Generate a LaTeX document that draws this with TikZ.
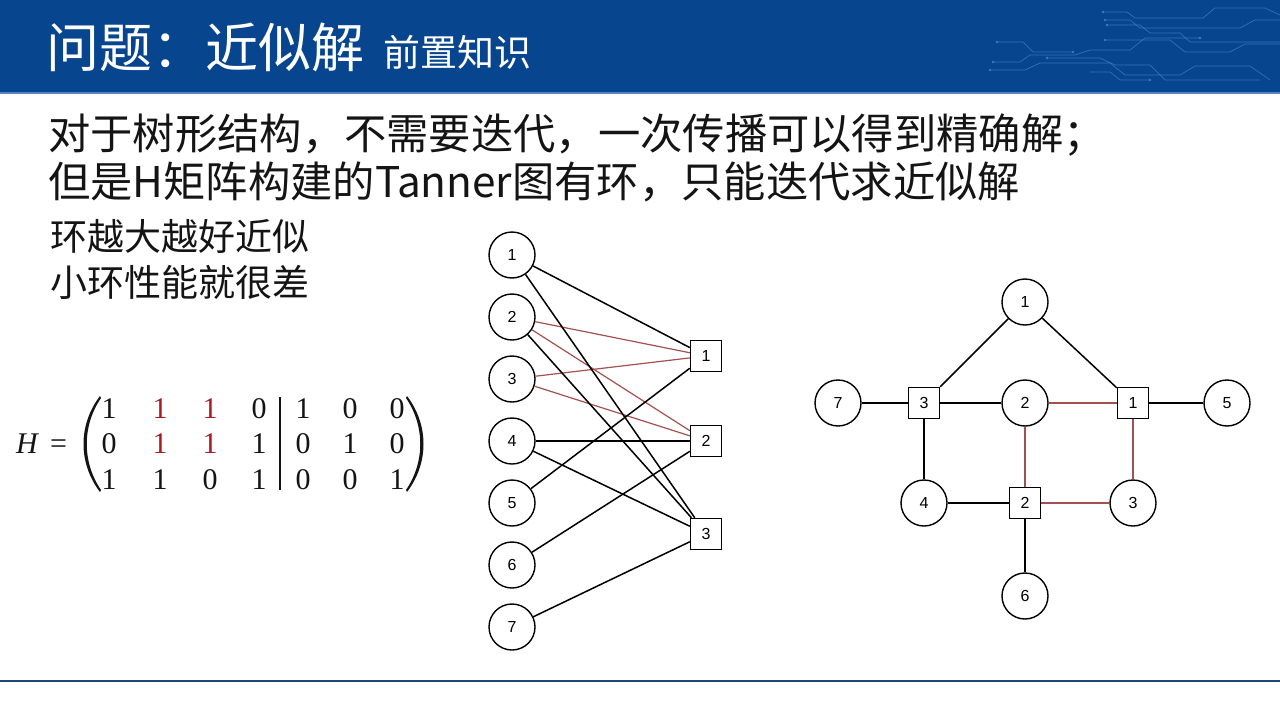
\documentclass[tikz,border=0pt]{standalone}
\usepackage{fontspec}
\newfontfamily\cjk{Noto Sans CJK SC}
\newfontfamily\arialf{Liberation Sans}
\newfontfamily\serif{Liberation Serif}
\definecolor{hdrblue}{RGB}{8,69,143}
\definecolor{hdrline}{RGB}{90,130,190}
\definecolor{circ}{RGB}{80,140,215}
\definecolor{mred}{RGB}{170,25,35}
\definecolor{ered}{RGB}{165,80,80}
\definecolor{lineblue}{RGB}{30,70,120}
\definecolor{txt}{RGB}{20,20,20}
\begin{document}
\begin{tikzpicture}[x=1pt,y=-1pt,
  vnode/.style={circle,draw,line width=1.4pt,minimum size=46pt,inner sep=0pt,fill=white,font=\arialf\fontsize{16}{16}\selectfont},
  cnode/.style={rectangle,draw,line width=1.4pt,minimum size=31pt,inner sep=0pt,fill=white,font=\arialf\fontsize{16}{16}\selectfont},
  blk/.style={line width=1.5pt,black},
  redge/.style={line width=1.2pt,ered},
  trace/.style={circ,line width=0.7pt,opacity=0.6},
  ttl/.style={anchor=base west,inner sep=0pt,text=white},
  body/.style={anchor=base west,inner sep=0pt,text=txt},
  ent/.style={anchor=base,inner sep=0pt,text=txt,font=\serif\fontsize{30}{30}\selectfont},
  rent/.style={ent,text=mred}]
\useasboundingbox (0,0) rectangle (1280,720);
\fill[white] (0,0) rectangle (1280,720);
% header
\fill[hdrblue] (0,0) rectangle (1280,92);
\draw[hdrline,line width=1.5pt] (0,93) -- (1280,93);
% circuit decoration
\draw[trace] (1103,12) -- (1127,12) -- (1135,18) -- (1203,18) -- (1215,8) -- (1265,8) -- (1280,15);
\draw[trace] (1105,20) -- (1130,20) -- (1140,28) -- (1240,28) -- (1255,20) -- (1280,20);
\draw[trace] (1107,25) -- (1140,25) -- (1150,33) -- (1180,33) -- (1190,42) -- (1280,42);
\draw[trace] (997,42) -- (1023,42) -- (1033,52) -- (1073,52);
\draw[trace] (993,62) -- (1020,62) -- (1030,55) -- (1075,55) -- (1090,50) -- (1130,50) -- (1145,38) -- (1200,38);
\draw[trace] (990,70) -- (1025,70) -- (1040,63) -- (1110,63) -- (1125,75) -- (1180,75) -- (1195,66) -- (1250,66) -- (1270,80);
\draw[trace] (1047,58) -- (1100,58) -- (1115,65) -- (1150,65) -- (1165,80) -- (1260,80);
\draw[trace] (1105,40) -- (1170,40) -- (1185,52) -- (1230,52) -- (1245,44) -- (1280,44);
\draw[trace] (1090,72) -- (1110,72) -- (1120,80) -- (1150,80);
\foreach \p in {(997,42),(1073,52),(993,62),(990,70),(1047,58),(1103,12),(1105,20),(1107,25),(1105,40),(1200,38),(1150,80)}
  \fill[circ,opacity=0.7] \p circle (1.3pt);
% title
\node[ttl,font=\cjk\fontsize{53}{53}\selectfont] (title) at (46,67) {问题：近似解};
\node[ttl,font=\cjk\fontsize{37}{37}\selectfont] (subtitle) at (383,66) {前置知识};
% body text
\node[body,font=\cjk\fontsize{42.3}{42.3}\selectfont] (l1) at (48,149) {对于树形结构，不需要迭代，一次传播可以得到精确解；};
\node[body,font=\cjk\fontsize{42.3}{42.3}\selectfont] (l2) at (48,197) {但是H矩阵构建的Tanner图有环，只能迭代求近似解};
\node[body,font=\cjk\fontsize{37}{37}\selectfont] (l3) at (50,250) {环越大越好近似};
\node[body,font=\cjk\fontsize{37}{37}\selectfont] (l4) at (50,296) {小环性能就很差};
% matrix H
\node[ent,anchor=base west] (hlab) at (16,453) {\textit{H}\hspace{11pt}=};
\fill[txt] (100,396) .. controls (78,425) and (78,463) .. (100,492) -- (101,490) .. controls (82,462) and (82,426) .. (101,398) -- cycle;
\fill[txt] (407,396) .. controls (429,425) and (429,463) .. (407,492) -- (406,490) .. controls (425,462) and (425,426) .. (406,398) -- cycle;
\draw[txt,line width=2.5pt] (280,397) -- (280,490);
\node[ent]  (m11) at (109,418) {1};
\node[rent] (m12) at (160,418) {1};
\node[rent] (m13) at (210,418) {1};
\node[ent]  (m14) at (259,418) {0};
\node[ent]  (m15) at (303,418) {1};
\node[ent]  (m16) at (350,418) {0};
\node[ent]  (m17) at (397,418) {0};
\node[ent]  (m21) at (109,453) {0};
\node[rent] (m22) at (160,453) {1};
\node[rent] (m23) at (210,453) {1};
\node[ent]  (m24) at (259,453) {1};
\node[ent]  (m25) at (303,453) {0};
\node[ent]  (m26) at (350,453) {1};
\node[ent]  (m27) at (397,453) {0};
\node[ent]  (m31) at (109,489) {1};
\node[ent]  (m32) at (160,489) {1};
\node[ent]  (m33) at (210,489) {0};
\node[ent]  (m34) at (259,489) {1};
\node[ent]  (m35) at (303,489) {0};
\node[ent]  (m36) at (350,489) {0};
\node[ent]  (m37) at (397,489) {1};
% left Tanner graph
\node[vnode] (v1) at (512,255) {1};
\node[vnode] (v2) at (512,317) {2};
\node[vnode] (v3) at (512,379) {3};
\node[vnode] (v4) at (512,441) {4};
\node[vnode] (v5) at (512,503) {5};
\node[vnode] (v6) at (512,565) {6};
\node[vnode] (v7) at (512,627) {7};
\node[cnode] (c1) at (706,356) {1};
\node[cnode] (c2) at (706,441) {2};
\node[cnode] (c3) at (706,534) {3};
\draw[redge] (v2) -- (c1);
\draw[redge] (v3) -- (c1);
\draw[redge] (v2) -- (c2);
\draw[redge] (v3) -- (c2);
\draw[blk] (v1) -- (c1);
\draw[blk] (v5) -- (c1);
\draw[blk] (v4) -- (c2);
\draw[blk] (v6) -- (c2);
\draw[blk] (v1) -- (c3);
\draw[blk] (v2) -- (c3);
\draw[blk] (v4) -- (c3);
\draw[blk] (v7) -- (c3);
% right graph
\node[vnode] (r1) at (1025,302) {1};
\node[vnode] (r2) at (1025,403) {2};
\node[vnode] (r3) at (1133,503) {3};
\node[vnode] (r4) at (924,503) {4};
\node[vnode] (r5) at (1227,403) {5};
\node[vnode] (r6) at (1025,596) {6};
\node[vnode] (r7) at (838,403) {7};
\node[cnode] (s1) at (1133,403) {1};
\node[cnode] (s2) at (1025,503) {2};
\node[cnode] (s3) at (924,403) {3};
\draw[blk] (r1) -- (s3);
\draw[blk] (r1) -- (s1);
\draw[blk] (r7) -- (s3);
\draw[blk] (s3) -- (r2);
\draw[blk] (s1) -- (r5);
\draw[blk] (s3) -- (r4);
\draw[blk] (r4) -- (s2);
\draw[blk] (s2) -- (r6);
\draw[redge] (r2) -- (s1);
\draw[redge] (r2) -- (s2);
\draw[redge] (s1) -- (r3);
\draw[redge] (s2) -- (r3);
% bottom line
\draw[lineblue,line width=2pt] (0,681) -- (1280,681);
\end{tikzpicture}
\end{document}
